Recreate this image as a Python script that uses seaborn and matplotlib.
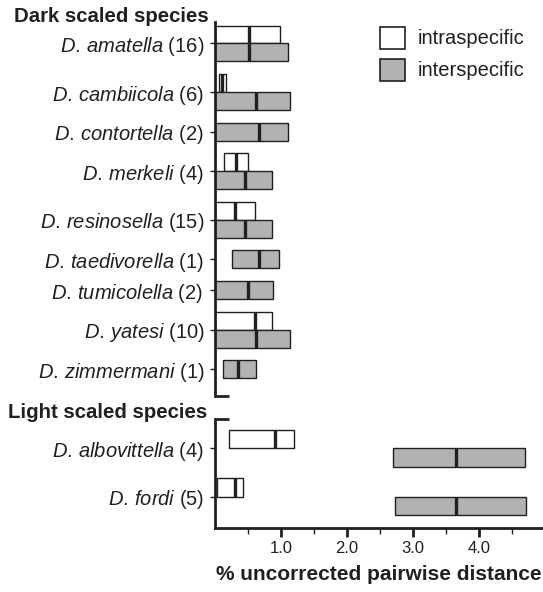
import numpy as np
import matplotlib
matplotlib.use("Agg")
import matplotlib.pyplot as plt
from matplotlib.patches import Patch
import seaborn as sns

# =========================
# DATA (% uncorrected pairwise distance)
# =========================

dark_species = ["amatella", "cambiicola", "contortella", "merkeli", "resinosella",
                "taedivorella", "tumicolella", "yatesi", "zimmermani"]
dark_n = [16, 6, 2, 4, 15, 1, 2, 10, 1]
dark_intra_min = [0.0, 0.06, np.nan, 0.13, 0.0, np.nan, np.nan, 0.0, np.nan]
dark_intra_max = [0.98, 0.17, np.nan, 0.50, 0.61, np.nan, np.nan, 0.87, np.nan]
dark_intra_med = [0.52, 0.11, np.nan, 0.32, 0.31, np.nan, np.nan, 0.61, np.nan]
dark_inter_min = [0.0, 0.0, 0.0, 0.0, 0.0, 0.26, 0.0, 0.0, 0.12]
dark_inter_max = [1.11, 1.13, 1.11, 0.87, 0.87, 0.97, 0.88, 1.13, 0.62]
dark_inter_med = [0.52, 0.62, 0.66, 0.46, 0.46, 0.66, 0.50, 0.62, 0.35]

light_species = ["albovittella", "fordi"]
light_n = [4, 5]
light_intra_min = [0.21, 0.03]
light_intra_max = [1.20, 0.42]
light_intra_med = [0.91, 0.31]
light_inter_min = [2.70, 2.72]
light_inter_max = [4.70, 4.71]
light_inter_med = [3.65, 3.65]

x_ticks = [1.0, 2.0, 3.0, 4.0]
x_minor = [0.5, 1.5, 2.5, 3.5, 4.5]

# =========================
# STYLE
# =========================

INK = "#231f20"
GRAY = "#b1b2b4"
FS = 14.5

sns.set_theme(style="ticks")
plt.rcParams["font.family"] = ["Liberation Sans", "DejaVu Sans"]
plt.rcParams["mathtext.fontset"] = "custom"
plt.rcParams["mathtext.rm"] = "Liberation Sans"
plt.rcParams["mathtext.it"] = "Liberation Sans:italic"
plt.rcParams["mathtext.bf"] = "Liberation Sans:bold"
for key in ["text.color", "axes.labelcolor", "xtick.color", "ytick.color"]:
    plt.rcParams[key] = INK

W, H = 543, 592
fig = plt.figure(figsize=(W / 100, H / 100), dpi=100)

left = 215 / W
width = (W - 215) / W
ax_top = fig.add_axes([left, 1 - 395.7 / H, width, 374 / H])
ax_bot = fig.add_axes([left, 1 - 528 / H, width, 108.7 / H])


def stack(has_intra, top_pad, gap):
    ticks = []
    y = top_pad
    for hi in has_intra:
        n = 2 if hi else 1
        ticks.append(y + n / 2)
        y += n + gap
    return ticks, y - gap


def draw_group(ax, species, n, imin, imax, imed, emin, emax, emed,
               top_pad, gap, bottom_pad):
    has_intra = [not np.isnan(v) for v in imin]
    ticks, end = stack(has_intra, top_pad, gap)
    for yc, hi, a, b, m, c, d, e in zip(ticks, has_intra, imin, imax, imed,
                                        emin, emax, emed):
        y_inter = yc + 0.5 if hi else yc
        if hi:
            ax.barh(yc - 0.5, b - a, left=a, height=1, color="white",
                    edgecolor=INK, linewidth=1.0, zorder=2)
            ax.vlines(m, yc - 1, yc, color=INK, linewidth=2.4, zorder=3)
        ax.barh(y_inter, d - c, left=c, height=1, color=GRAY,
                edgecolor=INK, linewidth=1.0, zorder=2)
        ax.vlines(e, y_inter - 0.5, y_inter + 0.5, color=INK,
                  linewidth=2.4, zorder=3)

    labels = [r"$\mathit{D.\,%s}$ (%d)" % (s, k)
              for s, k in zip(species, n)]
    labels = [lab + " " if "tumicolella" in lab else lab for lab in labels]
    ax.set_yticks(ticks)
    ax.set_yticklabels(labels, fontsize=FS)
    ax.set_ylim(end + bottom_pad, 0)
    ax.set_xlim(0, 4.97)
    ax.tick_params(axis="y", length=3.6, width=1.0, color=INK, pad=4)
    ax.spines["left"].set_linewidth(2.0)
    ax.spines["left"].set_color(INK)
    ax.spines["right"].set_visible(False)
    ax.spines["top"].set_visible(False)
    return end + bottom_pad


# =========================
# DARK SCALED SPECIES
# =========================

y_end = draw_group(ax_top, dark_species, dark_n, dark_intra_min, dark_intra_max,
                   dark_intra_med, dark_inter_min, dark_inter_max,
                   dark_inter_med, 0.22, 0.72, 0.98)
ax_top.spines["bottom"].set_visible(False)
ax_top.set_xticks([])
ax_top.plot([0, 0.21], [y_end, y_end], color=INK, linewidth=2.0,
            clip_on=False, solid_capstyle="butt")

# =========================
# LIGHT SCALED SPECIES
# =========================

draw_group(ax_bot, light_species, light_n, light_intra_min, light_intra_max,
           light_intra_med, light_inter_min, light_inter_max,
           light_inter_med, 0.6, 0.65, 0.73)
ax_bot.spines["bottom"].set_linewidth(2.0)
ax_bot.spines["bottom"].set_color(INK)
ax_bot.plot([0, 0.21], [0, 0], color=INK, linewidth=2.0,
            clip_on=False, solid_capstyle="butt")
ax_bot.set_xticks(x_ticks)
ax_bot.set_xticklabels([f"{t:.1f}" for t in x_ticks], fontsize=12)
ax_bot.set_xticks(x_minor, minor=True)
ax_bot.tick_params(axis="x", which="major", length=6.5, width=2.0,
                   color=INK, pad=3)
ax_bot.tick_params(axis="x", which="minor", length=4.3, width=1.0,
                   color=INK)
ax_bot.set_xlabel("% uncorrected pairwise distance", fontsize=15,
                  fontweight="bold", labelpad=6)

# =========================
# GROUP TITLES AND LEGEND
# =========================

fig.text(209 / W, 1 - 17 / H, "Dark scaled species", ha="right",
         va="center", fontsize=14.7, fontweight="bold")
fig.text(207 / W, 1 - 413 / H, "Light scaled species", ha="right",
         va="center", fontsize=14.7, fontweight="bold")

handles = [Patch(facecolor="white", edgecolor=INK, linewidth=1.2),
           Patch(facecolor=GRAY, edgecolor=INK, linewidth=1.2)]
fig.legend(handles, ["intraspecific", "interspecific"], loc="upper left",
           bbox_to_anchor=(380 / W, 1 - 26.7 / H), frameon=False,
           fontsize=FS, handlelength=1.25, handleheight=1.3,
           handletextpad=0.6, labelspacing=0.5, borderpad=0,
           borderaxespad=0)

plt.savefig("out.png", dpi=100)
plt.close()
